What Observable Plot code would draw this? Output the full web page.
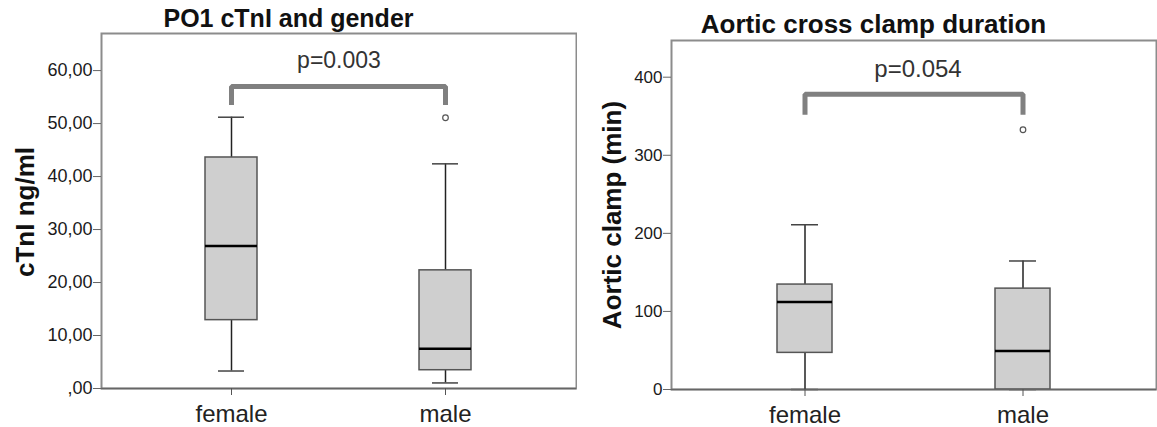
<!DOCTYPE html>
<html>
<head>
<meta charset="utf-8">
<script src="https://cdn.jsdelivr.net/npm/d3@7"></script>
<script src="https://cdn.jsdelivr.net/npm/@observablehq/plot@0.6"></script>
<style>
  html, body { margin: 0; padding: 0; background: #fff; }
  #wrap { display: flex; width: 1157px; height: 427px; overflow: hidden; }
  #wrap svg { display: block; flex: none; }
</style>
</head>
<body>
<div id="wrap"></div>
<script>
// ---------- data ----------
const groups = ["female", "male"];

// Panel 1: PO1 cTnI and gender
const ctniTitle = "PO1 cTnI and gender";
const ctniYLabel = "cTnI ng/ml";
const ctniLow = [3.3, 1.05];
const ctniQ1 = [12.9, 3.45];
const ctniMedian = [26.9, 7.5];
const ctniQ3 = [43.6, 22.3];
const ctniHigh = [51.2, 42.4];
const ctniOutlierGroup = ["male"];
const ctniOutlierValue = [51.1];
const ctniTicks = [0, 10, 20, 30, 40, 50, 60];
const ctniTickLabels = [",00", "10,00", "20,00", "30,00", "40,00", "50,00", "60,00"];
const ctniP = "p=0.003";
const ctniBracketLeg = 53.5;
const ctniBracketTop = 57.0;

// Panel 2: Aortic cross clamp duration
const clampTitle = "Aortic cross clamp duration";
const clampYLabel = "Aortic clamp (min)";
const clampLow = [0, 0];
const clampQ1 = [46.9, 0];
const clampMedian = [112, 49.4];
const clampQ3 = [134.4, 129.2];
const clampHigh = [211, 164.6];
const clampOutlierGroup = ["male"];
const clampOutlierValue = [332.7];
const clampTicks = [0, 100, 200, 300, 400];
const clampTickLabels = ["0", "100", "200", "300", "400"];
const clampP = "p=0.054";
const clampBracketLeg = 352;
const clampBracketTop = 378;

// ---------- helpers ----------
function rowsOf(low, q1, med, q3, high) {
  return groups.map((g, i) => ({group: g, low: low[i], q1: q1[i], med: med[i], q3: q3[i], high: high[i]}));
}
function outliersOf(gs, vs) {
  return gs.map((g, i) => ({group: g, value: vs[i]}));
}
function bracketOf(leg, top) {
  return [
    {group: groups[0], value: leg},
    {group: groups[0], value: top},
    {group: groups[1], value: top},
    {group: groups[1], value: leg}
  ];
}

function panel(cfg) {
  const rows = rowsOf(...cfg.stats);
  const outs = outliersOf(cfg.outG, cfg.outV);
  const frameCenter = (cfg.ml + (cfg.width - cfg.mr)) / 2;
  return Plot.plot({
    width: cfg.width,
    height: 427,
    marginLeft: cfg.ml,
    marginRight: cfg.mr,
    marginTop: cfg.mt,
    marginBottom: cfg.mb,
    style: {fontFamily: "'Liberation Sans', Arial, sans-serif", color: "#222", background: "#fff", overflow: "visible"},
    x: {type: "band", domain: groups, paddingInner: cfg.pi, paddingOuter: cfg.po, align: 0.5},
    y: {domain: cfg.ydomain},
    marks: [
      Plot.frame({stroke: "#8c8c8c", strokeWidth: 2}),
      // whiskers
      Plot.ruleX(rows, {x: "group", y1: "low", y2: "q1", stroke: "#222", strokeWidth: 1.5}),
      Plot.ruleX(rows, {x: "group", y1: "q3", y2: "high", stroke: "#222", strokeWidth: 1.5}),
      Plot.tickY(rows, {x: "group", y: "low", stroke: "#444", strokeWidth: 1.5, insetLeft: cfg.capInset, insetRight: cfg.capInset}),
      Plot.tickY(rows, {x: "group", y: "high", stroke: "#444", strokeWidth: 1.5, insetLeft: cfg.capInset, insetRight: cfg.capInset}),
      // boxes
      Plot.barY(rows, {x: "group", y1: "q1", y2: "q3", fill: "#cfcfcf", stroke: "#555", strokeWidth: 1.5}),
      Plot.tickY(rows, {x: "group", y: "med", stroke: "#000", strokeWidth: 2.5}),
      // outliers
      Plot.dot(outs, {x: "group", y: "value", r: 2.8, stroke: "#555", fill: "#fff", strokeWidth: 1.2}),
      // axis line
      Plot.ruleY([0], {stroke: "#666", strokeWidth: 1.5}),
      Plot.axisY({ticks: cfg.ticks, tickFormat: (d) => cfg.tickLabels[cfg.ticks.indexOf(d)], tickSize: 8, tickPadding: 1, fontSize: cfg.tickFont, stroke: "#666", fill: "#1a1a1a", label: null}),
      Plot.axisX({tickSize: 7, tickPadding: 9, fontSize: 24, stroke: "#555", fill: "#222", label: null}),
      // significance bracket
      Plot.line(bracketOf(cfg.bLeg, cfg.bTop), {x: "group", y: "value", stroke: "#808080", strokeWidth: 5, strokeLinejoin: "miter", strokeLinecap: "butt"}),
      Plot.text([cfg.p], {frameAnchor: "top", lineAnchor: "bottom", dx: cfg.pdx, dy: cfg.pBase - cfg.mt, fontSize: cfg.pFont, fill: "#333"}),
      // title
      Plot.text([cfg.title], {frameAnchor: "top", lineAnchor: "bottom", dx: cfg.titleCenter - frameCenter, dy: cfg.titleBase - cfg.mt, fontSize: cfg.titleFont, fontWeight: "bold", fill: "#111"}),
      // y label
      Plot.text([cfg.ylabel], {frameAnchor: "left", textAnchor: "middle", lineAnchor: "middle", rotate: -90, dx: cfg.ylabelX - cfg.ml, dy: cfg.ylabelDy, fontSize: 26, fontWeight: "bold", fill: "#111"})
    ]
  });
}

const wrap = document.getElementById("wrap");
wrap.appendChild(panel({
  width: 577, ml: 101, mr: 1, mt: 33, mb: 39,
  pi: 0.757, po: 0.488, ydomain: [0, 67],
  stats: [ctniLow, ctniQ1, ctniMedian, ctniQ3, ctniHigh],
  outG: ctniOutlierGroup, outV: ctniOutlierValue,
  ticks: ctniTicks, tickLabels: ctniTickLabels, tickFont: 18,
  capInset: 13,
  bLeg: ctniBracketLeg, bTop: ctniBracketTop,
  p: ctniP, pdx: 0, pBase: 67, pFont: 23,
  title: ctniTitle, titleCenter: 288, titleBase: 26, titleFont: 25,
  ylabel: ctniYLabel, ylabelX: 25, ylabelDy: 1
}));
wrap.appendChild(panel({
  width: 580, ml: 94, mr: 1, mt: 40, mb: 38,
  pi: 0.749, po: 0.482, ydomain: [0, 447],
  stats: [clampLow, clampQ1, clampMedian, clampQ3, clampHigh],
  outG: clampOutlierGroup, outV: clampOutlierValue,
  ticks: clampTicks, tickLabels: clampTickLabels, tickFont: 17,
  capInset: 14,
  bLeg: clampBracketLeg, bTop: clampBracketTop,
  p: clampP, pdx: 4, pBase: 76, pFont: 24,
  title: clampTitle, titleCenter: 296, titleBase: 32, titleFont: 26,
  ylabel: clampYLabel, ylabelX: 35, ylabelDy: 0
}));
</script>
</body>
</html>
